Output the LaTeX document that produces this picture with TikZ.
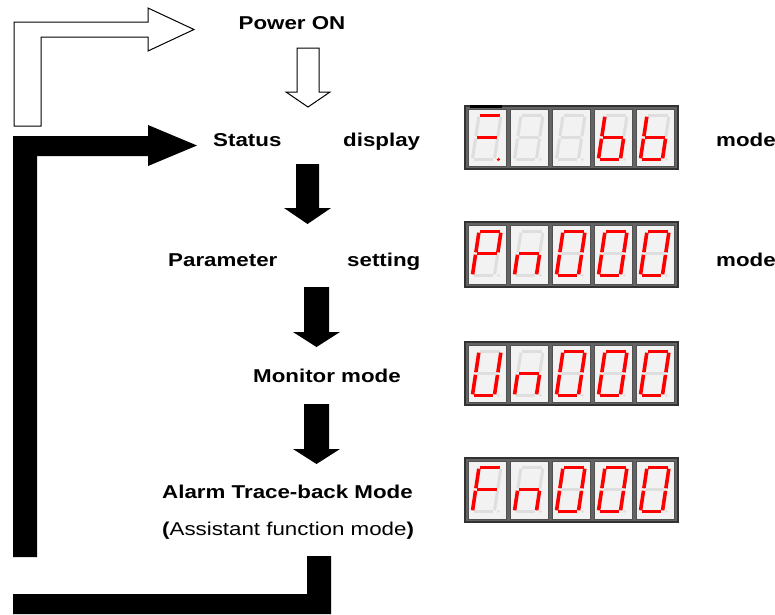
\documentclass[tikz,border=0pt]{standalone}
\usepackage{fontspec}
\setmainfont[FakeStretch=1.2]{Liberation Sans}
\definecolor{framefill}{RGB}{100,100,100}
\definecolor{frameline}{RGB}{50,50,50}
\definecolor{cellfill}{RGB}{242,242,242}
\definecolor{cellline}{RGB}{80,80,80}
\definecolor{segred}{RGB}{255,0,0}
\definecolor{segoffc}{RGB}{222,222,222}
\tikzset{
  segon/.style={draw=segred, line width=3.6pt},
  segoff/.style={draw=segoffc, line width=3pt},
  hollowarrow/.style={draw=black, fill=white, line width=1pt, line join=miter},
  solidarrow/.style={fill=black},
  lblb/.style={inner sep=0pt, anchor=base west, font=\fontsize{18.6}{22}\selectfont\bfseries},
  lblr/.style={inner sep=0pt, anchor=base west, font=\fontsize{18.6}{22}\selectfont},
  panelbox/.style={fill=framefill, draw=frameline, line width=1.5pt},
  cellbox/.style={fill=cellfill, draw=cellline, line width=1pt}
}
\newcommand\sgseg[2]{\ifnum#1=1 \draw[segon] #2;\else\draw[segoff] #2;\fi}
\def\sgdigitparse#1#2#3#4#5#6#7#8\relax{%
  \sgseg{#1}{(1.2,0)--(20.8,0)}%
  \sgseg{#2}{(22,1.2)--(22,20.8)}%
  \sgseg{#3}{(22,23.2)--(22,42.8)}%
  \sgseg{#4}{(1.2,44)--(20.8,44)}%
  \sgseg{#5}{(0,23.2)--(0,42.8)}%
  \sgseg{#6}{(0,1.2)--(0,20.8)}%
  \sgseg{#7}{(1.2,22)--(20.8,22)}%
  \ifnum#8=1 \fill[segred] (26,44) circle (1.7);\else\fill[segoffc] (26,44) circle (1.4);\fi}
\newcommand\sgdigit[3]{\begin{scope}[shift={(#1,#2)}, xslant=0.15]\sgdigitparse#3\relax\end{scope}}
\newcommand\sgcell[4]{%
  \filldraw[cellbox] (#1,#2+3) rectangle (#1+38,#3-3);
  \sgdigit{#1+11}{#2+9.5}{#4}}
\newcommand\sgpanel[7]{%
  \filldraw[panelbox] (465,#1) rectangle (678,#2);
  \sgcell{468}{#1}{#2}{#3}
  \sgcell{510}{#1}{#2}{#4}
  \sgcell{552}{#1}{#2}{#5}
  \sgcell{594}{#1}{#2}{#6}
  \sgcell{636}{#1}{#2}{#7}}
\newcommand\blkdown[6]{% cx, top, base, tip, shaft half, head half
  \fill[solidarrow] (#1-#5,#2) -- (#1+#5,#2) -- (#1+#5,#3) -- (#1+#6,#3) -- (#1,#4) -- (#1-#6,#3) -- (#1-#5,#3) -- cycle;}
\begin{document}
\begin{tikzpicture}[x=1pt, y=-1pt]
\useasboundingbox (0,0) rectangle (775,614);
% hollow arrows
\draw[hollowarrow] (14,126) -- (14,22) -- (148,22) -- (148,8) -- (194,29.5) -- (148,51) -- (148,37) -- (41,37) -- (41,126) -- cycle;
\draw[hollowarrow] (297,48) -- (319,48) -- (319,92) -- (330,92) -- (308,107) -- (286,92) -- (297,92) -- cycle;
% black loop
\fill[solidarrow] (13,557) -- (13,136) -- (148,136) -- (148,125) -- (197,145.5) -- (148,166) -- (148,156) -- (37,156) -- (37,557) -- cycle;
\fill[solidarrow] (13,594) -- (307,594) -- (307,556) -- (331,556) -- (331,614) -- (13,614) -- cycle;
% black down arrows
\blkdown{307.5}{164}{208}{224}{11.5}{23.5}
\blkdown{316.5}{287}{332}{347}{12.5}{23.5}
\blkdown{316.5}{404}{449}{464}{12.5}{23.5}
% labels
\node[lblb, anchor=base] (pwr) at (292,29) {Power ON};
\node[lblb] (st1) at (213,146) {Status};
\node[lblb] (st2) at (343,146) {display};
\node[lblb] (st3) at (716,146) {mode};
\node[lblb] (pa1) at (168,266) {Parameter};
\node[lblb] (pa2) at (347,266) {setting};
\node[lblb] (pa3) at (716,266) {mode};
\node[lblb] (mon) at (253,382) {Monitor mode};
\node[lblb] (alm) at (162,498) {Alarm Trace-back Mode};
\node[lblr] (ast) at (162,535) {{\bfseries(}Assistant function mode{\bfseries)}};
% displays
\sgpanel{106}{169}{10000011}{00000000}{00000000}{00111110}{00111110}
\fill (470,104.5) rectangle (502,107.5);
\sgpanel{222}{287}{11001110}{00101010}{11111100}{11111100}{11111100}
\sgpanel{342}{405}{01111100}{00101010}{11111100}{11111100}{11111100}
\sgpanel{458}{522}{10001110}{00101010}{11111100}{11111100}{11111100}
\end{tikzpicture}
\end{document}
